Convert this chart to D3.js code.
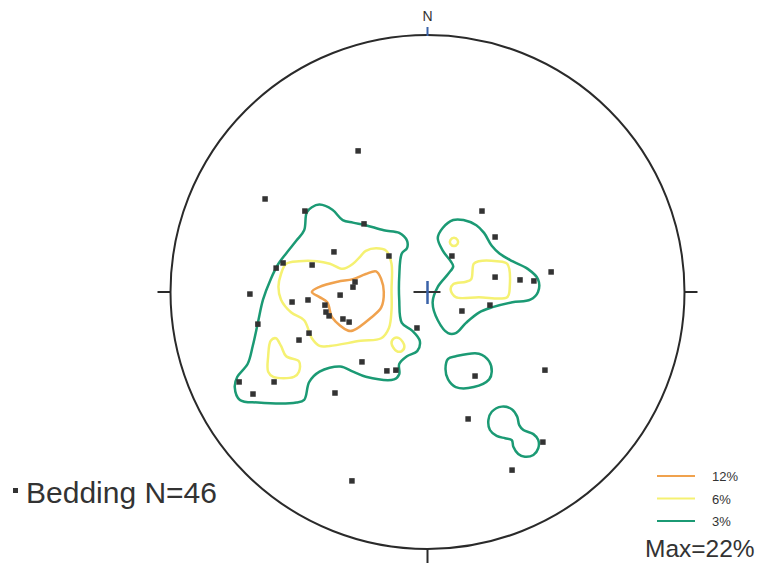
<!DOCTYPE html>
<html>
<head>
<meta charset="utf-8">
<script src="https://cdn.jsdelivr.net/npm/d3@7"></script>
<style>
  html, body { margin: 0; padding: 0; background: #fff; }
  svg { display: block; }
</style>
</head>
<body>
<svg id="chart" width="760" height="565"></svg>
<script>
// ---- Data (coordinates in percent of net radius: x = east, y = north) ----
const beddingPoles = [
  [-27.0, 54.9], [-63.2, 36.2], [-47.7, 31.5], [-24.7, 26.5], [-36.4, 15.6],
  [-15.0, 14.0], [-56.2, 11.3], [-58.9, 9.3], [-44.9, 10.5], [-28.2, 3.9],
  [-29.0, 1.9], [-34.0, -1.2], [-69.1, -0.8], [-52.7, -3.9], [-46.5, -3.1],
  [-39.9, -5.1], [-39.5, -7.8], [-38.3, -9.3], [-32.9, -10.5], [-30.5, -11.7],
  [-66.0, -12.5], [-46.1, -16.0], [-50.0, -18.7], [-4.1, -14.0], [-25.5, -27.2],
  [-15.8, -30.7], [-12.3, -30.4], [-73.3, -35.0], [-59.7, -35.0], [-67.9, -39.7],
  [-36.0, -39.3], [21.2, 31.5], [26.3, 21.4], [9.5, 14.0], [48.1, 7.8],
  [26.3, 5.8], [36.0, 4.7], [41.4, 4.3], [24.3, -5.1], [13.4, -7.4],
  [18.5, -32.7], [45.7, -30.4], [15.8, -49.4], [44.9, -58.4], [32.9, -69.3],
  [-29.4, -73.5]
];

const contour3 = [
  [[-45,33],[-42,34],[-37,32],[-33,28],[-29,27],[-24,26],[-17,24],[-11,23],[-8,20],[-8,17],
   [-10,15],[-11,6],[-11,-3],[-10,-12],[-6,-15],[-3,-19],[-4,-23],[-8,-25],[-11,-28],[-11,-32],
   [-13,-34],[-24,-33],[-29,-31],[-34,-29],[-42,-31],[-46,-35],[-48,-42],[-51,-43],[-66,-43],
   [-73,-42],[-75,-37],[-74,-33],[-70,-28],[-68,-21],[-66,-12],[-64,-3],[-61,5],[-58,11],
   [-55,15],[-51,20],[-48,24],[-47,31]],
  [[10,28],[14,28],[19,26],[22,23],[25,18],[28,15],[33,12],[39,9],[43,5],[43,0],[40,-3],
   [33,-4],[25,-6],[20,-8],[15,-12],[11,-16],[8,-16],[4,-11],[2,-4],[4,2],[8,7],[10,10],
   [9,12],[6,16],[4,21],[6,25]],
  [[8,-26],[11,-25],[20,-24],[24,-27],[25,-31],[24,-34],[18,-37],[11,-37],[8,-34],[7,-30]],
  [[28.9,-44.6],[32.8,-45.6],[34.9,-48.5],[35.7,-51.8],[37.3,-53.7],[41.2,-55.3],[43.1,-57.6],
   [43.1,-60.8],[41.2,-63.4],[37.9,-64.1],[35.3,-63.0],[33.4,-60.2],[32.8,-57.6],[30.2,-56.9],
   [26.9,-56.0],[24.3,-53.7],[23.7,-49.8],[25.0,-46.6]]
];

const contour6 = [
  [[-57,7],[-55,11],[-50,12],[-43,12],[-38,11],[-33,9],[-29,11],[-26,14],[-24,16],[-20,17],
   [-16,16],[-14,11],[-14,1],[-14,-7],[-15,-14],[-18,-18],[-26,-19],[-38,-21],[-42,-21],
   [-45,-18],[-48,-11],[-53,-8],[-57,-3],[-58,2]],
  [[-61,-19],[-59,-18],[-57,-21],[-55,-25],[-50,-27],[-50,-31],[-52,-33],[-60,-33],[-62,-31],[-62,-25]],
  [[-13,-18],[-11,-18],[-9,-21],[-10,-23],[-12,-23],[-14,-20]],
  [[18,11],[20,12],[27,12],[31,11],[32,2],[31,-2],[20,-2],[11,-2],[9,1],[10,3],[15,4],[17,5]],
  [[10.3,21.1],[11.7,20.2],[11.7,18.7],[10.3,17.9],[8.9,18.7],[8.9,20.2]]
];

const contour12 = [
  [[-45,0],[-42,2],[-35,4],[-29,5],[-24,7],[-20,8],[-18,5],[-17,0],[-18,-6],[-22,-10],
   [-29,-15],[-31,-15],[-37,-10],[-39,-4],[-42,-2]]
];

const legendLabels = ["12%", "6%", "3%"];
const legendColors = ["#f0a24e", "#f5f172", "#1b9a74"];
const maxLabel = "Max=22%";
const beddingLabel = "Bedding N=46";

// ---- Layout ----
const cx = 427.5, cy = 292, R = 257;
const svg = d3.select("#chart");
const x = d3.scaleLinear().domain([-100, 100]).range([cx - R, cx + R]);
const y = d3.scaleLinear().domain([-100, 100]).range([cy + R, cy - R]);

svg.append("rect").attr("width", 760).attr("height", 565).attr("fill", "#fff");

// Primitive circle
svg.append("circle").attr("cx", x(0)).attr("cy", y(0)).attr("r", x(100) - x(0))
  .attr("fill", "none").attr("stroke", "#2a2a2a").attr("stroke-width", 2);

// Outer ticks
const tk = 13;
svg.append("line").attr("x1", x(-100) - tk).attr("x2", x(-100)).attr("y1", y(0)).attr("y2", y(0))
  .attr("stroke", "#2a2a2a").attr("stroke-width", 2);
svg.append("line").attr("x1", x(100)).attr("x2", x(100) + tk).attr("y1", y(0)).attr("y2", y(0))
  .attr("stroke", "#2a2a2a").attr("stroke-width", 2);
svg.append("line").attr("x1", x(0)).attr("x2", x(0)).attr("y1", y(-100)).attr("y2", y(-100) + tk + 1)
  .attr("stroke", "#2a2a2a").attr("stroke-width", 2);
svg.append("line").attr("x1", x(0)).attr("x2", x(0)).attr("y1", y(100) - 8).attr("y2", y(100) + 1)
  .attr("stroke", "#3a62a8").attr("stroke-width", 2);
svg.append("text").attr("x", x(0)).attr("y", y(100) - 14).attr("text-anchor", "middle")
  .attr("font-family", "Liberation Sans, Arial, sans-serif").attr("font-size", 14)
  .attr("fill", "#333").text("N");

// Contours
const line = d3.line().x(d => x(d[0])).y(d => y(d[1])).curve(d3.curveCatmullRomClosed.alpha(0.5));
const layers = [
  { rings: contour3, color: legendColors[2] },
  { rings: contour6, color: legendColors[1] },
  { rings: contour12, color: legendColors[0] }
];
layers.forEach(L => {
  svg.append("g").selectAll("path").data(L.rings).join("path")
    .attr("d", line).attr("fill", "none").attr("stroke", L.color)
    .attr("stroke-width", 2.5).attr("stroke-linejoin", "round");
});

// Centre cross
svg.append("line").attr("x1", x(0) - 14).attr("x2", x(0) + 13).attr("y1", y(0)).attr("y2", y(0))
  .attr("stroke", "#333").attr("stroke-width", 2);
svg.append("line").attr("x1", x(0)).attr("x2", x(0)).attr("y1", y(0) - 11).attr("y2", y(0) + 12)
  .attr("stroke", "#3a62a8").attr("stroke-width", 2.5);

// Poles
const ms = 5.5;
svg.append("g").selectAll("rect").data(beddingPoles).join("rect")
  .attr("x", d => x(d[0]) - ms / 2).attr("y", d => y(d[1]) - ms / 2)
  .attr("width", ms).attr("height", ms).attr("fill", "#333");

// Bedding label
svg.append("rect").attr("x", 13).attr("y", 488).attr("width", 5).attr("height", 5).attr("fill", "#333");
svg.append("text").attr("x", 26).attr("y", 503)
  .attr("font-family", "Liberation Sans, Arial, sans-serif").attr("font-size", 30)
  .attr("fill", "#333").text(beddingLabel);

// Legend
const lg = svg.append("g");
legendLabels.forEach((lab, i) => {
  const ly = 476 + i * 22.5;
  lg.append("line").attr("x1", 657).attr("x2", 695).attr("y1", ly).attr("y2", ly)
    .attr("stroke", legendColors[i]).attr("stroke-width", 2);
  lg.append("text").attr("x", 712).attr("y", ly + 5)
    .attr("font-family", "Liberation Sans, Arial, sans-serif").attr("font-size", 13)
    .attr("fill", "#333").text(lab);
});
svg.append("text").attr("x", 645).attr("y", 557)
  .attr("font-family", "Liberation Sans, Arial, sans-serif").attr("font-size", 24.5)
  .attr("fill", "#333").text(maxLabel);
</script>
</body>
</html>
